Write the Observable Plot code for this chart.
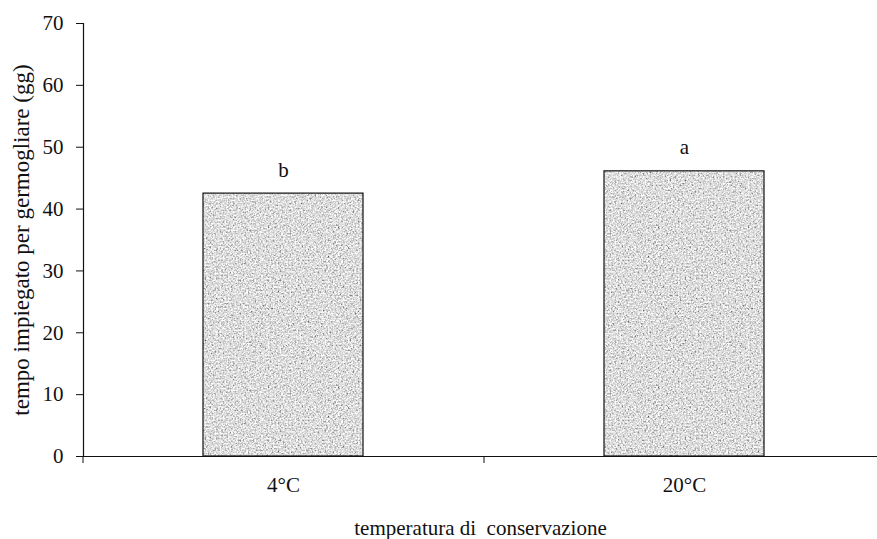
<!DOCTYPE html>
<html>
<head>
<meta charset="utf-8">
<script src="https://cdn.jsdelivr.net/npm/d3@7"></script>
<script src="https://cdn.jsdelivr.net/npm/@observablehq/plot@0.6"></script>
<style>
  html, body { margin: 0; padding: 0; background: #fff; }
  #chart svg, #chart svg text { font-family: "Liberation Serif", "Times New Roman", serif !important; }
  #chart g[aria-label="y-axis label"] { font-size: 23px; }
</style>
</head>
<body>
<svg width="0" height="0" style="position:absolute">
  <defs>
    <filter id="grain" x="0" y="0" width="100%" height="100%">
      <feTurbulence type="fractalNoise" baseFrequency="0.6" numOctaves="2" seed="7"/>
      <feColorMatrix type="matrix" values="0.85 0.85 0.85 0 -0.56  0.85 0.85 0.85 0 -0.56  0.85 0.85 0.85 0 -0.56  0 0 0 0 1"/>
    </filter>
    <pattern id="stipple" width="160" height="160" patternUnits="userSpaceOnUse">
      <rect width="160" height="160" filter="url(#grain)"/>
    </pattern>
  </defs>
</svg>
<div id="chart"></div>
<script>
const categories = ["4°C", "20°C"];
const values = [42.5, 46.1];
const letters = ["b", "a"];
const yTicks = [0, 10, 20, 30, 40, 50, 60, 70];
const xLabel = "temperatura di  conservazione";
const yLabel = "tempo impiegato per germogliare (gg)";

const data = categories.map((c, i) => ({cat: c, value: values[i], letter: letters[i]}));

const chart = Plot.plot({
  width: 877,
  height: 539,
  marginLeft: 83,
  marginRight: 0,
  marginTop: 23,
  marginBottom: 83,
  style: {fontFamily: "Liberation Serif, serif", fontSize: "21px", color: "#111", background: "#fff"},
  x: {domain: categories, range: [83, 885], paddingInner: 0.6, paddingOuter: 0.3},
  y: {domain: [0, 70]},
  marks: [
    Plot.barY(data, {x: "cat", y: "value", fill: "url(#stipple)", stroke: "#111", strokeWidth: 1.2}),
    Plot.text(data, {x: "cat", y: "value", text: "letter", dy: -17, lineAnchor: "bottom"}),
    Plot.frame({anchor: "left", stroke: "#111", strokeWidth: 1.2}),
    Plot.ruleY([0], {stroke: "#111", strokeWidth: 1.2}),
    Plot.axisY({ticks: yTicks, tickSize: 7, tickPadding: 13, label: yLabel, labelAnchor: "center", labelArrow: "none", labelOffset: 71}),
    Plot.axisX({tickSize: 7, text: null, dx: -200.5, label: null}),
    Plot.axisX({tickSize: 0, tickPadding: 21, label: xLabel, labelAnchor: "center", labelArrow: "none", labelOffset: 78})
  ]
});
document.getElementById("chart").appendChild(chart);
</script>
</body>
</html>
